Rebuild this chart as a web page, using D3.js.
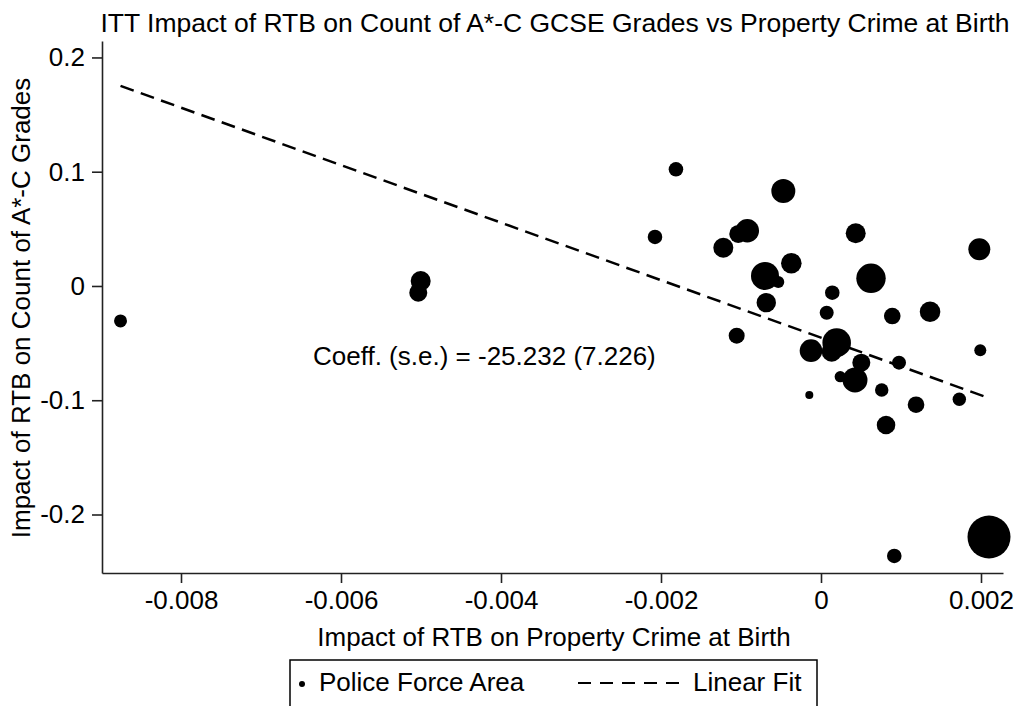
<!DOCTYPE html>
<html>
<head>
<meta charset="utf-8">
<script src="https://cdn.jsdelivr.net/npm/d3@7"></script>
<style>
  html,body{margin:0;padding:0;background:#fff;}
  svg{display:block;font-family:"Liberation Sans",Arial,sans-serif;}
</style>
</head>
<body>
<div id="chart"></div>
<script>
// impact on property crime at birth (x), impact on A*-C count (y), analytic weight
const crimeImpact=[-0.008756,-0.005004,-0.005034,-0.001813,-0.000471,-0.002075,-0.000921,-0.001034,-0.001221,
  -0.000371,-0.0007,-0.000534,-0.000684,-0.001054,0.000434,0.001979,0.000625,0.000141,0.000071,0.000891,
  0.001363,0.000196,-0.000125,0.000134,0.000504,0.000975,0.001991,0.000425,0.000241,0.000759,-0.000146,
  0.001188,0.001729,0.000813,0.000916,0.0021];
const gradeImpact=[-0.0306,0.0044,-0.0059,0.1021,0.0832,0.0429,0.0484,0.0455,0.0335,
  0.0199,0.0088,0.0035,-0.0146,-0.0435,0.0461,0.0321,0.0067,-0.0059,-0.0234,-0.0263,
  -0.0225,-0.0496,-0.0566,-0.0575,-0.0671,-0.0671,-0.0563,-0.0823,-0.0794,-0.0910,-0.0954,
  -0.1039,-0.0992,-0.1217,-0.2363,-0.2197];
const weight=[42,100,81,53,144,53,137,81,100,106,196,36,94,64,100,121,216,53,49,69,
  106,204,128,100,81,49,36,156,32,45,16,69,45,86,53,462];
const fitX=[-0.008756,0.0021];
const fitY=[0.1751,-0.0981];
const xTicks=[-0.008,-0.006,-0.004,-0.002,0,0.002];
const xTickLabels=["-0.008","-0.006","-0.004","-0.002","0","0.002"];
const yTicks=[-0.2,-0.1,0,0.1,0.2];
const yTickLabels=["-0.2","-0.1","0","0.1","0.2"];
const coefText="Coeff. (s.e.) = -25.232 (7.226)";

const W=1018,H=706,fs=26;
const svg=d3.select("#chart").append("svg").attr("width",W).attr("height",H);
svg.append("rect").attr("width",W).attr("height",H).attr("fill","#fff");

const x=d3.scaleLinear().domain([-0.0089875,0.002275]).range([102,1003]);
const y=d3.scaleLinear().domain([-0.2512,0.2144]).range([573,41]);
const r=d3.scaleSqrt().domain([0,d3.max(weight)]).range([0,21.5]);

const pts=crimeImpact.map((c,i)=>({x:c,y:gradeImpact[i],w:weight[i]}));

svg.append("g").selectAll("circle").data(pts).join("circle")
  .attr("cx",d=>x(d.x)).attr("cy",d=>y(d.y)).attr("r",d=>r(d.w)).attr("fill","#000");

svg.append("path").datum(fitX.map((v,i)=>[v,fitY[i]]))
  .attr("d",d3.line().x(d=>x(d[0])).y(d=>y(d[1])))
  .attr("fill","none").attr("stroke","#000").attr("stroke-width",2.5).attr("stroke-dasharray","14,7.5");

const styleAxis=s=>{
  s.select(".domain").attr("stroke","#222").attr("stroke-width",1.6);
  s.selectAll(".tick line").attr("stroke","#222").attr("stroke-width",1.6);
  s.selectAll("text").attr("fill","#000").attr("font-size",fs).attr("font-family","Liberation Sans, Arial, sans-serif");
};
svg.append("g").attr("transform","translate(0,573)")
  .call(d3.axisBottom(x).tickValues(xTicks).tickFormat((d,i)=>xTickLabels[i]).tickSize(10).tickSizeOuter(0).tickPadding(8))
  .call(styleAxis);
svg.append("g").attr("transform","translate(102,0)")
  .call(d3.axisLeft(y).tickValues(yTicks).tickFormat((d,i)=>yTickLabels[i]).tickSize(10).tickSizeOuter(0).tickPadding(7))
  .call(styleAxis);

svg.append("text").attr("x",555).attr("y",32).attr("text-anchor","middle").attr("font-size",26.5)
  .text("ITT Impact of RTB on Count of A*-C GCSE Grades vs Property Crime at Birth");
svg.append("text").attr("x",554).attr("y",646).attr("text-anchor","middle").attr("font-size",fs)
  .text("Impact of RTB on Property Crime at Birth");
svg.append("text").attr("transform","translate(30,308) rotate(-90)").attr("text-anchor","middle").attr("font-size",fs)
  .text("Impact of RTB on Count of A*-C Grades");
svg.append("text").attr("x",313).attr("y",365).attr("font-size",fs).text(coefText);

// legend
const lg=svg.append("g");
lg.append("rect").attr("x",290).attr("y",660).attr("width",527).attr("height",70)
  .attr("fill","#fff").attr("stroke","#000").attr("stroke-width",1.5);
lg.append("circle").attr("cx",302).attr("cy",684).attr("r",3).attr("fill","#000");
lg.append("text").attr("x",319).attr("y",691).attr("font-size",fs).text("Police Force Area");
lg.append("line").attr("x1",578).attr("x2",679).attr("y1",683).attr("y2",683)
  .attr("stroke","#000").attr("stroke-width",2).attr("stroke-dasharray","13,9");
lg.append("text").attr("x",693).attr("y",691).attr("font-size",fs).text("Linear Fit");
</script>
</body>
</html>
